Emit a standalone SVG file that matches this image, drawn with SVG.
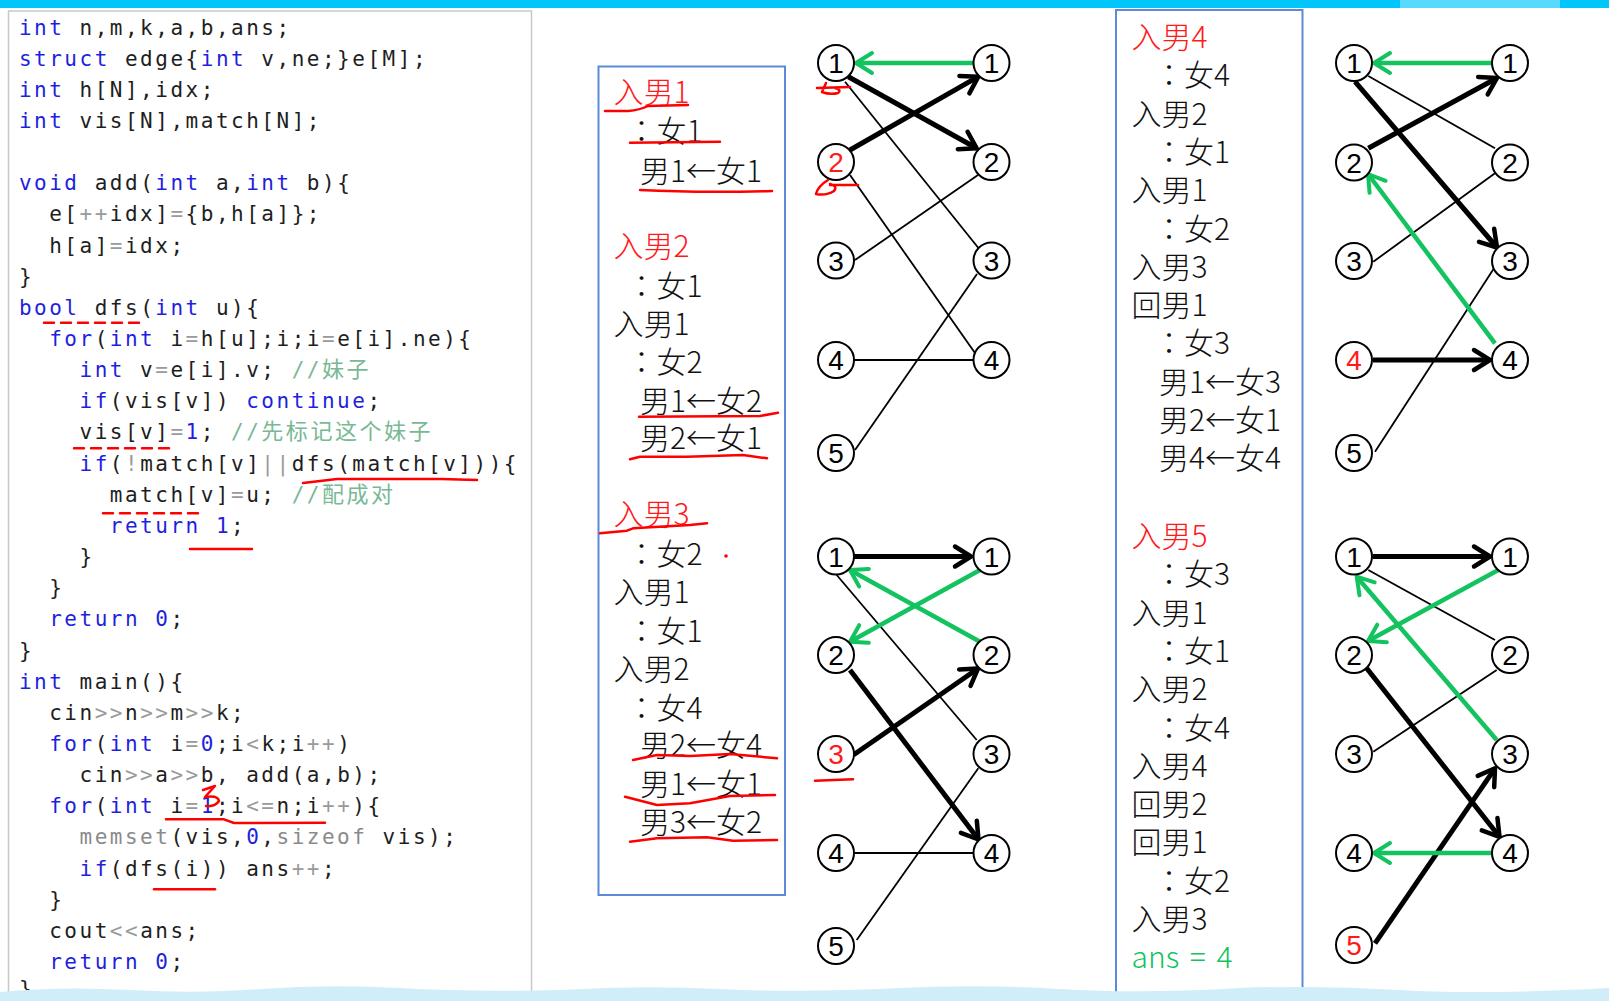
<svg xmlns="http://www.w3.org/2000/svg" width="1609" height="1001" viewBox="0 0 1609 1001">
<style>
.code{font-family:"DejaVu Sans Mono",monospace;font-size:21px;letter-spacing:2.51px;fill:#1e1e1e}
.k{fill:#1f1fe0}.o{fill:#9a9a9a}.n{fill:#1f1fe0}.g{fill:#8a8a8a}.c{fill:#78b894}
.z{font-family:"Noto Sans CJK SC",sans-serif;font-size:22px}
.t{font-family:"Noto Sans CJK SC",sans-serif;font-size:30px;font-weight:300;fill:#111}
.cc{font-family:"Noto Sans CJK TC","Noto Sans CJK JP",sans-serif}
.red{fill:#ff1a1a}.grn{fill:#12c35f}
.nd circle{fill:#fff;stroke:#000;stroke-width:2}
.nd text{font-family:"Liberation Sans",Arial,sans-serif;font-size:28px;text-anchor:middle;fill:#000}
.nd text.red{fill:#ff1a1a}
.thin{stroke:#000;stroke-width:1.8;fill:none}
.thick{stroke:#000;stroke-width:5;fill:none}
.gr{stroke:#12c35f;stroke-width:4.5;fill:none}
.ann{fill:none;stroke:#f00;stroke-width:2.5;stroke-linecap:round;stroke-linejoin:round}
.box{fill:none;stroke:#5b8bd8;stroke-width:2}
</style>
<defs>
<marker id="mb" markerUnits="userSpaceOnUse" viewBox="-20 -14 24 28" refX="0" refY="0" markerWidth="24" markerHeight="28" orient="auto">
<path d="M-16,-10 L0,0 L-16,10" fill="none" stroke="#000" stroke-width="4.5" stroke-linecap="round" stroke-linejoin="round"/>
</marker>
<marker id="mg" markerUnits="userSpaceOnUse" viewBox="-20 -14 24 28" refX="0" refY="0" markerWidth="24" markerHeight="28" orient="auto">
<path d="M-16,-10 L0,0 L-16,10" fill="none" stroke="#12c35f" stroke-width="4" stroke-linecap="round" stroke-linejoin="round"/>
</marker>
</defs>
<rect x="0" y="0" width="1609" height="1001" fill="#fff"/>
<rect x="0" y="0" width="1609" height="8" fill="#00c6fa"/>
<rect x="1400" y="0" width="160" height="8" fill="#fff" opacity="0.35"/>

<g id="code-panel">
<rect x="8.5" y="11" width="523" height="1000" fill="#fff" stroke="#c8c8c8" stroke-width="1.5"/>
<g class="code">
<text x="18.9" y="34.5"><tspan class="k">int</tspan> n,m,k,a,b,ans;</text>
<text x="18.9" y="65.65"><tspan class="k">struct</tspan> edge{<tspan class="k">int</tspan> v,ne;}e[M];</text>
<text x="18.9" y="96.8"><tspan class="k">int</tspan> h[N],idx;</text>
<text x="18.9" y="127.95"><tspan class="k">int</tspan> vis[N],match[N];</text>
<text x="18.9" y="190.25"><tspan class="k">void</tspan> add(<tspan class="k">int</tspan> a,<tspan class="k">int</tspan> b){</text>
<text x="49.2" y="221.4">e[<tspan class="o">++</tspan>idx]<tspan class="o">=</tspan>{b,h[a]};</text>
<text x="49.2" y="252.55">h[a]<tspan class="o">=</tspan>idx;</text>
<text x="18.9" y="283.7">}</text>
<text x="18.9" y="314.85"><tspan class="k">bool</tspan> dfs(<tspan class="k">int</tspan> u){</text>
<text x="49.2" y="346"><tspan class="k">for</tspan>(<tspan class="k">int</tspan> i<tspan class="o">=</tspan>h[u];i;i<tspan class="o">=</tspan>e[i].ne){</text>
<text x="79.5" y="377.15"><tspan class="k">int</tspan> v<tspan class="o">=</tspan>e[i].v; <tspan class="c">//<tspan class="z">妹子</tspan></tspan></text>
<text x="79.5" y="408.3"><tspan class="k">if</tspan>(vis[v]) <tspan class="k">continue</tspan>;</text>
<text x="79.5" y="439.45">vis[v]<tspan class="o">=</tspan><tspan class="n">1</tspan>; <tspan class="c">//<tspan class="z">先标记这个妹子</tspan></tspan></text>
<text x="79.5" y="470.6"><tspan class="k">if</tspan>(<tspan class="o">!</tspan>match[v]<tspan class="o">||</tspan>dfs(match[v])){</text>
<text x="109.8" y="501.75">match[v]<tspan class="o">=</tspan>u; <tspan class="c">//<tspan class="z">配成对</tspan></tspan></text>
<text x="109.8" y="532.9"><tspan class="k">return</tspan> <tspan class="n">1</tspan>;</text>
<text x="79.5" y="564.05">}</text>
<text x="49.2" y="595.2">}</text>
<text x="49.2" y="626.35"><tspan class="k">return</tspan> <tspan class="n">0</tspan>;</text>
<text x="18.9" y="657.5">}</text>
<text x="18.9" y="688.65"><tspan class="k">int</tspan> main(){</text>
<text x="49.2" y="719.8">cin<tspan class="o">&gt;&gt;</tspan>n<tspan class="o">&gt;&gt;</tspan>m<tspan class="o">&gt;&gt;</tspan>k;</text>
<text x="49.2" y="750.95"><tspan class="k">for</tspan>(<tspan class="k">int</tspan> i<tspan class="o">=</tspan><tspan class="n">0</tspan>;i<tspan class="o">&lt;</tspan>k;i<tspan class="o">++</tspan>)</text>
<text x="79.5" y="782.1">cin<tspan class="o">&gt;&gt;</tspan>a<tspan class="o">&gt;&gt;</tspan>b, add(a,b);</text>
<text x="49.2" y="813.25"><tspan class="k">for</tspan>(<tspan class="k">int</tspan> i<tspan class="o">=</tspan><tspan class="n">1</tspan>;i<tspan class="o">&lt;=</tspan>n;i<tspan class="o">++</tspan>){</text>
<text x="79.5" y="844.4"><tspan class="g">memset</tspan>(vis,<tspan class="n">0</tspan>,<tspan class="g">sizeof</tspan> vis);</text>
<text x="79.5" y="875.55"><tspan class="k">if</tspan>(dfs(i)) ans<tspan class="o">++</tspan>;</text>
<text x="49.2" y="906.7">}</text>
<text x="49.2" y="937.85">cout<tspan class="o">&lt;&lt;</tspan>ans;</text>
<text x="49.2" y="969"><tspan class="k">return</tspan> <tspan class="n">0</tspan>;</text>
<text x="18.9" y="996">}</text>
</g>
</g>

<g id="trace-panel-1">
<rect class="box" x="598.5" y="66.5" width="186.5" height="828.5"/>
<text class="t">
<tspan class="red" x="613.5" y="103">入男1</tspan>
<tspan class="cc" x="626.5" y="142">：</tspan>女1
<tspan x="640" y="181.5">男1←女1</tspan>
<tspan class="red" x="613.5" y="257">入男2</tspan>
<tspan class="cc" x="626.5" y="296.5">：</tspan>女1
<tspan x="613.5" y="334.5">入男1</tspan>
<tspan class="cc" x="626.5" y="372.5">：</tspan>女2
<tspan x="640" y="411.5">男1←女2</tspan>
<tspan x="640" y="449">男2←女1</tspan>
<tspan class="red" x="613.5" y="525">入男3</tspan>
<tspan class="cc" x="626.5" y="565">：</tspan>女2
<tspan x="613.5" y="603">入男1</tspan>
<tspan class="cc" x="626.5" y="641.5">：</tspan>女1
<tspan x="613.5" y="680">入男2</tspan>
<tspan class="cc" x="626.5" y="718.5">：</tspan>女4
<tspan x="640" y="756">男2←女4</tspan>
<tspan x="640" y="794.5">男1←女1</tspan>
<tspan x="640" y="832.5">男3←女2</tspan>
</text>
</g>

<g id="trace-panel-2">
<rect class="box" x="1116" y="10" width="186.5" height="983.5"/>
<text class="t">
<tspan class="red" x="1131.5" y="48">入男4</tspan>
<tspan class="cc" x="1154" y="86.3">：</tspan>女4
<tspan x="1131.5" y="124.6">入男2</tspan>
<tspan class="cc" x="1154" y="162.9">：</tspan>女1
<tspan x="1131.5" y="201.2">入男1</tspan>
<tspan class="cc" x="1154" y="239.5">：</tspan>女2
<tspan x="1131.5" y="277.8">入男3</tspan>
<tspan x="1131.5" y="316.1">回男1</tspan>
<tspan class="cc" x="1154" y="354.4">：</tspan>女3
<tspan x="1159" y="392.7">男1←女3</tspan>
<tspan x="1159" y="431">男2←女1</tspan>
<tspan x="1159" y="469.3">男4←女4</tspan>
<tspan class="red" x="1131.5" y="547">入男5</tspan>
<tspan class="cc" x="1154" y="585.3">：</tspan>女3
<tspan x="1131.5" y="623.6">入男1</tspan>
<tspan class="cc" x="1154" y="661.9">：</tspan>女1
<tspan x="1131.5" y="700.2">入男2</tspan>
<tspan class="cc" x="1154" y="738.5">：</tspan>女4
<tspan x="1131.5" y="776.8">入男4</tspan>
<tspan x="1131.5" y="815.1">回男2</tspan>
<tspan x="1131.5" y="853.4">回男1</tspan>
<tspan class="cc" x="1154" y="891.7">：</tspan>女2
<tspan x="1131.5" y="930">入男3</tspan>
<tspan class="grn" x="1131.5" y="968.3" word-spacing="4">ans = 4</tspan>
</text>
</g>

<g id="connectors">
<line class="thin" x1="845" y1="81.7" x2="980" y2="250"/>
<line class="thin" x1="850" y1="175" x2="975" y2="353"/>
<line class="thin" x1="855" y1="260" x2="978" y2="175"/>
<line class="thin" x1="854" y1="360" x2="973.5" y2="360"/>
<line class="thin" x1="855" y1="450" x2="977" y2="274"/>
<line class="thick" x1="848.3" y1="76.7" x2="976.7" y2="148.3" marker-end="url(#mb)"/>
<line class="thick" x1="850" y1="150" x2="978.3" y2="76.7" marker-end="url(#mb)"/>
<line class="gr" x1="973" y1="63" x2="856" y2="63" marker-end="url(#mg)"/>
<line class="thin" x1="836.7" y1="575" x2="976.7" y2="740"/>
<line class="thin" x1="855" y1="853" x2="973.5" y2="853"/>
<line class="thin" x1="856.7" y1="940" x2="978.3" y2="768.3"/>
<line class="thick" x1="854" y1="556.5" x2="971" y2="556.5" marker-end="url(#mb)"/>
<line class="thick" x1="850" y1="670" x2="978.5" y2="839.5" marker-end="url(#mb)"/>
<line class="thick" x1="853.3" y1="755" x2="978" y2="668.5" marker-end="url(#mb)"/>
<line class="gr" x1="980" y1="570" x2="850" y2="641.7" marker-end="url(#mg)"/>
<line class="gr" x1="980" y1="641.7" x2="850" y2="570" marker-end="url(#mg)"/>
<line class="thin" x1="1368.3" y1="76" x2="1495" y2="148.3"/>
<line class="thin" x1="1373.3" y1="261.7" x2="1495" y2="173.3"/>
<line class="thin" x1="1375" y1="451.7" x2="1495" y2="266.7"/>
<line class="thick" x1="1355" y1="81.7" x2="1497" y2="247.5" marker-end="url(#mb)"/>
<line class="thick" x1="1368.3" y1="148.3" x2="1497" y2="78" marker-end="url(#mb)"/>
<line class="thick" x1="1373" y1="360" x2="1490" y2="360" marker-end="url(#mb)"/>
<line class="gr" x1="1492" y1="63" x2="1374" y2="63" marker-end="url(#mg)"/>
<line class="gr" x1="1495" y1="343.3" x2="1368" y2="174" marker-end="url(#mg)"/>
<line class="thin" x1="1368.3" y1="570" x2="1495" y2="640"/>
<line class="thin" x1="1373.3" y1="751.7" x2="1496.7" y2="670"/>
<line class="thick" x1="1373" y1="556.5" x2="1490" y2="556.5" marker-end="url(#mb)"/>
<line class="thick" x1="1366.7" y1="668.3" x2="1499.5" y2="836.8" marker-end="url(#mb)"/>
<line class="thick" x1="1375" y1="943.3" x2="1495" y2="768.3" marker-end="url(#mb)"/>
<line class="gr" x1="1498.3" y1="570" x2="1368" y2="641.1" marker-end="url(#mg)"/>
<line class="gr" x1="1496.7" y1="740" x2="1356.7" y2="576.7" marker-end="url(#mg)"/>
<line class="gr" x1="1492" y1="853" x2="1374" y2="853" marker-end="url(#mg)"/>
</g>

<g id="A-L1" class="nd"><circle cx="836" cy="63" r="18"/><text x="836" y="73">1</text></g>
<g id="A-L2" class="nd"><circle cx="836" cy="162" r="18"/><text class="red" x="836" y="172">2</text></g>
<g id="A-L3" class="nd"><circle cx="836" cy="260.5" r="18"/><text x="836" y="270.5">3</text></g>
<g id="A-L4" class="nd"><circle cx="836" cy="360" r="18"/><text x="836" y="370">4</text></g>
<g id="A-L5" class="nd"><circle cx="836" cy="453" r="18"/><text x="836" y="463">5</text></g>
<g id="A-R1" class="nd"><circle cx="991.5" cy="63" r="18"/><text x="991.5" y="73">1</text></g>
<g id="A-R2" class="nd"><circle cx="991.5" cy="162" r="18"/><text x="991.5" y="172">2</text></g>
<g id="A-R3" class="nd"><circle cx="991.5" cy="260.5" r="18"/><text x="991.5" y="270.5">3</text></g>
<g id="A-R4" class="nd"><circle cx="991.5" cy="360" r="18"/><text x="991.5" y="370">4</text></g>
<g id="B-L1" class="nd"><circle cx="836" cy="556.5" r="18"/><text x="836" y="566.5">1</text></g>
<g id="B-L2" class="nd"><circle cx="836" cy="655" r="18"/><text x="836" y="665">2</text></g>
<g id="B-L3" class="nd"><circle cx="836" cy="754" r="18"/><text class="red" x="836" y="764">3</text></g>
<g id="B-L4" class="nd"><circle cx="836" cy="853" r="18"/><text x="836" y="863">4</text></g>
<g id="B-L5" class="nd"><circle cx="836" cy="946" r="18"/><text x="836" y="956">5</text></g>
<g id="B-R1" class="nd"><circle cx="991.5" cy="556.5" r="18"/><text x="991.5" y="566.5">1</text></g>
<g id="B-R2" class="nd"><circle cx="991.5" cy="655" r="18"/><text x="991.5" y="665">2</text></g>
<g id="B-R3" class="nd"><circle cx="991.5" cy="754" r="18"/><text x="991.5" y="764">3</text></g>
<g id="B-R4" class="nd"><circle cx="991.5" cy="853" r="18"/><text x="991.5" y="863">4</text></g>
<g id="C-L1" class="nd"><circle cx="1354" cy="63" r="18"/><text x="1354" y="73">1</text></g>
<g id="C-L2" class="nd"><circle cx="1354" cy="162.5" r="18"/><text x="1354" y="172.5">2</text></g>
<g id="C-L3" class="nd"><circle cx="1354" cy="261" r="18"/><text x="1354" y="271">3</text></g>
<g id="C-L4" class="nd"><circle cx="1354" cy="360" r="18"/><text class="red" x="1354" y="370">4</text></g>
<g id="C-L5" class="nd"><circle cx="1354" cy="453" r="18"/><text x="1354" y="463">5</text></g>
<g id="C-R1" class="nd"><circle cx="1510" cy="63" r="18"/><text x="1510" y="73">1</text></g>
<g id="C-R2" class="nd"><circle cx="1510" cy="162.5" r="18"/><text x="1510" y="172.5">2</text></g>
<g id="C-R3" class="nd"><circle cx="1510" cy="261" r="18"/><text x="1510" y="271">3</text></g>
<g id="C-R4" class="nd"><circle cx="1510" cy="360" r="18"/><text x="1510" y="370">4</text></g>
<g id="D-L1" class="nd"><circle cx="1354" cy="556.5" r="18"/><text x="1354" y="566.5">1</text></g>
<g id="D-L2" class="nd"><circle cx="1354" cy="655" r="18"/><text x="1354" y="665">2</text></g>
<g id="D-L3" class="nd"><circle cx="1354" cy="754" r="18"/><text x="1354" y="764">3</text></g>
<g id="D-L4" class="nd"><circle cx="1354" cy="853" r="18"/><text x="1354" y="863">4</text></g>
<g id="D-L5" class="nd"><circle cx="1354" cy="945" r="18"/><text class="red" x="1354" y="955">5</text></g>
<g id="D-R1" class="nd"><circle cx="1510" cy="556.5" r="18"/><text x="1510" y="566.5">1</text></g>
<g id="D-R2" class="nd"><circle cx="1510" cy="655" r="18"/><text x="1510" y="665">2</text></g>
<g id="D-R3" class="nd"><circle cx="1510" cy="754" r="18"/><text x="1510" y="764">3</text></g>
<g id="D-R4" class="nd"><circle cx="1510" cy="853" r="18"/><text x="1510" y="863">4</text></g>

<g id="annotations">
<path class="ann" d="M44,322.7 L145,322.7" stroke-dasharray="10 7"/>
<path class="ann" d="M74,448.3 L174,448.3" stroke-dasharray="10 7"/>
<path class="ann" d="M303,483 L337,479 L441,479 L477,480"/>
<path class="ann" d="M103,513.3 L203,513.3" stroke-dasharray="10 7"/>
<path class="ann" d="M190,549 L252,549"/>
<path class="ann" d="M203,790 L215,786 L205,797 Q218,795 219,801 Q215,807 206,806"/>
<path class="ann" d="M166,819.3 L224,819.3 L234,823 L325,822.7"/>
<path class="ann" d="M154,889.3 L215,889.3"/>
<path class="ann" d="M605,111 L628,111 Q640,110 648,106 L688,105"/>
<path class="ann" d="M630,142.7 L720,141.7"/>
<path class="ann" d="M640,190 Q700,193 772,191"/>
<path class="ann" d="M639,416.7 L760,416 L778,412.7"/>
<path class="ann" d="M630,459.3 L640,456.7 L687,456.7 L743,455 L767,458.3"/>
<path class="ann" d="M600,533.3 L627,530.7 L633,528.3 L690,525 L707,523.3"/>
<circle cx="726" cy="556" r="1.8" fill="#f00"/>
<path class="ann" d="M633,760 L657,755 L690,756 L730,754 L777,758.3"/>
<path class="ann" d="M625,796.7 L657,805 L690,803.3 L730,796 L775,795"/>
<path class="ann" d="M630,841.7 L657,838.3 L707,837.3 L733,840.7 L777,840"/>
<path class="ann" d="M817,88 L850,87 M826,83 L822,92 Q830,95 838,93 Q842,90 835,88"/>
<path class="ann" d="M830,185 L858,185 M828,180 Q818,186 816,194 Q826,196 834,191 Q838,186 830,184"/>
<path class="ann" d="M815,780.7 L853,779.3"/>
</g>

<path d="M0,1001 L0,992 Q60,986 130,990 T260,989 Q330,984 400,988 T560,990 Q640,985 720,989 T900,988 Q980,984 1060,989 T1240,988 Q1320,985 1400,990 T1609,988 L1609,1001 Z" fill="#cfeef9"/>
</svg>
